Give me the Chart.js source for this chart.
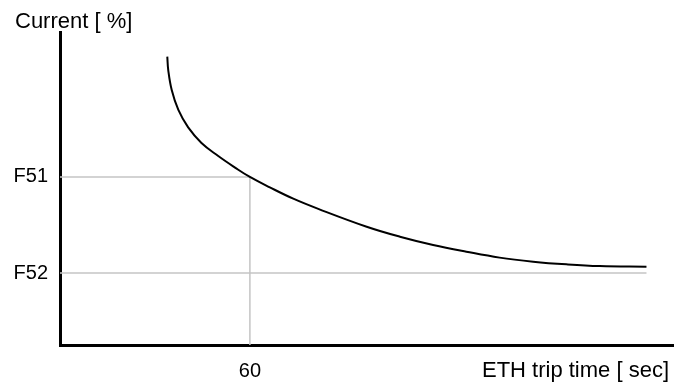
<!DOCTYPE html>
<html>
<head>
<meta charset="utf-8">
<script src="https://cdn.jsdelivr.net/npm/chart.js@4"></script>
<style>
  html, body { margin: 0; padding: 0; background: #fff; }
  #wrap { width: 674px; height: 385px; }
</style>
</head>
<body>
<div id="wrap"><canvas id="ethChart" width="674" height="385"></canvas></div>
<script>
// Curve: trip time (sec) vs current (%)
const curveTime = [33.9, 34.2, 35.3, 37.4, 40.5, 44.7, 50, 55.3, 60, 66.3, 73.7, 81.6, 96.9, 107.4, 117.9, 128.4, 138.9, 149.5, 160, 170.5, 185.3];
const curveCurrent = [212.7, 205.7, 195.3, 184.9, 175.8, 167.7, 160.9, 154.9, 150, 144.6, 138.7, 133.4, 124.1, 118.9, 114.6, 111.1, 108, 105.9, 104.5, 103.6, 103.3];

// Tick labels
const yTickValues = [150, 100];
const yTickLabels = ["F51", "F52"];
const xTickValues = [60];
const xTickLabels = ["60"];

const F51 = 150;
const F52 = 100;
const tripTime = 60;

const X_MIN = 0, X_MAX = 194;
const Y_MIN = 62.5, Y_MAX = 225.5;

const FONT = "'Liberation Sans', Arial, Helvetica, sans-serif";
const GREY = '#c4c4c4';

const curve = curveTime.map((t, i) => ({ x: t, y: curveCurrent[i] }));

// axis titles drawn as plain text
const axisText = {
    id: 'axisText',
    afterDraw(chart) {
        const ctx = chart.ctx;
        ctx.save();
        ctx.fillStyle = '#000';
        ctx.font = '22px ' + FONT;
        ctx.textBaseline = 'alphabetic';
        ctx.textAlign = 'left';
        ctx.fillText('Current [ %]', 15, 28);
        ctx.textAlign = 'right';
        ctx.fillText('ETH trip time [ sec]', 669, 377);
        ctx.restore();
    }
};

function renderChart() {
    const ctx = document.getElementById('ethChart').getContext('2d');

    new Chart(ctx, {
        type: 'line',
        data: {
            datasets: [
                {
                    data: curve,
                    borderColor: '#000',
                    borderWidth: 2,
                    tension: 0.4,
                    pointRadius: 0
                },
                {
                    data: [{ x: X_MIN, y: F51 }, { x: tripTime, y: F51 }],
                    borderColor: GREY,
                    borderWidth: 1.5,
                    pointRadius: 0
                },
                {
                    data: [{ x: tripTime, y: Y_MIN }, { x: tripTime, y: F51 }],
                    borderColor: GREY,
                    borderWidth: 1.5,
                    pointRadius: 0
                },
                {
                    data: [{ x: X_MIN, y: F52 }, { x: curveTime[curveTime.length - 1], y: F52 }],
                    borderColor: GREY,
                    borderWidth: 1.5,
                    pointRadius: 0
                }
            ]
        },
        options: {
            responsive: false,
            animation: false,
            layout: { padding: { top: 32, left: 0, right: 0, bottom: 0 } },
            plugins: {
                legend: { display: false },
                tooltip: { enabled: false }
            },
            scales: {
                x: {
                    type: 'linear',
                    min: X_MIN,
                    max: X_MAX,
                    afterFit: s => { s.height = 40; },
                    afterBuildTicks: s => { s.ticks = xTickValues.map(v => ({ value: v })); },
                    grid: { display: false, drawTicks: false },
                    border: { display: true, color: '#000', width: 3 },
                    ticks: {
                        padding: 14,
                        color: '#000',
                        font: { family: FONT, size: 20 },
                        callback: v => xTickLabels[xTickValues.indexOf(v)]
                    }
                },
                y: {
                    type: 'linear',
                    min: Y_MIN,
                    max: Y_MAX,
                    afterFit: s => { s.width = 60; },
                    afterBuildTicks: s => { s.ticks = yTickValues.map(v => ({ value: v })); },
                    grid: { display: false, drawTicks: false },
                    border: { display: true, color: '#000', width: 3 },
                    ticks: {
                        padding: 12,
                        color: '#000',
                        font: { family: FONT, size: 20 },
                        callback: v => yTickLabels[yTickValues.indexOf(v)]
                    }
                }
            }
        },
        plugins: [axisText]
    });
}

renderChart();
</script>
</body>
</html>
